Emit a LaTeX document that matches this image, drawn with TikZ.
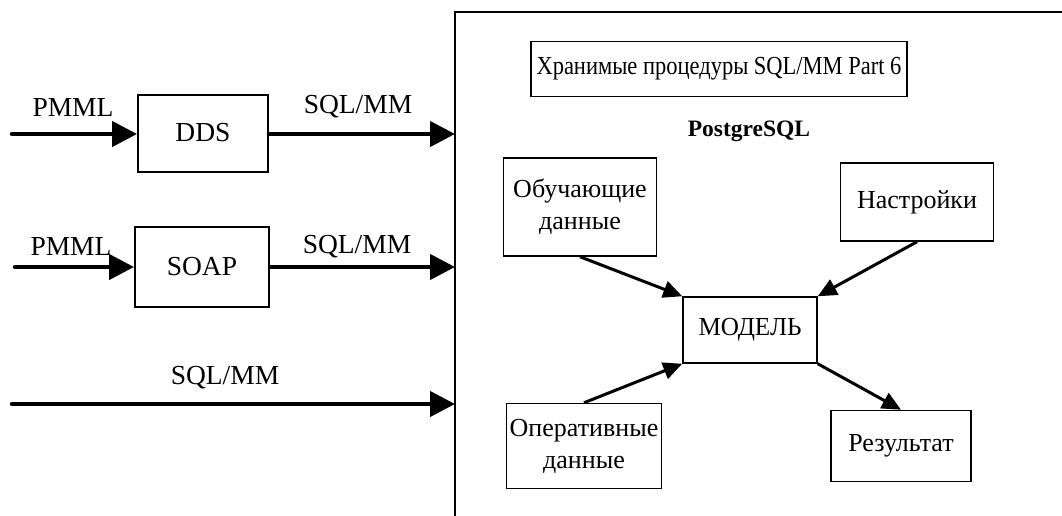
\documentclass[tikz,border=0pt]{standalone}
\usepackage{fontspec}
\usepackage{graphicx}
\setmainfont{Liberation Serif}
\usetikzlibrary{arrows.meta}
\begin{document}
\begin{tikzpicture}[x=1pt,y=-1pt,
  txt/.style={font=\fontsize{26}{32}\selectfont, inner sep=0pt},
  lat/.style={font=\fontsize{27.5}{32}\selectfont, inner sep=0pt},
  box/.style={draw, line width=1.5pt, align=center, inner sep=0pt},
  bigarrow/.style={line width=4.5pt, line cap=round, -{Triangle[length=25pt,width=25pt]}},
  diagarrow/.style={line width=3pt, -{Triangle[length=19pt,width=17pt]}}]
\useasboundingbox (0,0) rectangle (1062,515);
% big PostgreSQL box (extends beyond the picture)
\draw[line width=2.5pt] (455,520) -- (455,12) -- (1070,12);
\node[box, txt, minimum width=376pt, minimum height=55pt] (proc) at (719,69) {\resizebox{365pt}{\height}{Хранимые процедуры SQL/MM Part 6}};
\node[inner sep=0pt, font=\fontsize{23.5}{28}\selectfont\bfseries] (pg) at (749,131) {PostgreSQL};
% left side
\node[box, lat, line width=2pt, minimum width=130pt, minimum height=77pt] (dds) at (203,133) {DDS};
\node[box, lat, line width=2pt, minimum width=134pt, minimum height=80pt] (soap) at (202,267) {SOAP};
\coordinate (in1) at (12,134);
\coordinate (out1) at (455,134);
\coordinate (in2) at (15,267);
\coordinate (out2) at (455,267);
\coordinate (in3) at (12,404);
\coordinate (out3) at (455,404);
\draw[bigarrow] (in1) -- (dds.west |- in1);
\draw[bigarrow] (dds.east |- out1) -- (out1);
\draw[bigarrow] (in2) -- (soap.west |- in2);
\draw[bigarrow] (soap.east |- out2) -- (out2);
\draw[bigarrow] (in3) -- (out3);
\node[lat] (l1) at (73,107) {PMML};
\node[lat] (l2) at (358,107) {SQL/MM};
\node[lat] (l3) at (71,246) {PMML};
\node[lat] (l4) at (357,247) {SQL/MM};
\node[lat] (l5) at (225,378) {SQL/MM};
% inner boxes
\node[box, txt, minimum width=153pt, minimum height=98pt] (obuch) at (580,207) {Обучающие\\данные};
\node[box, txt, minimum width=153pt, minimum height=78pt] (nastr) at (917,202) {Настройки};
\node[box, txt, minimum width=134pt, minimum height=66pt] (model) at (750,330) {\resizebox{103pt}{\height}{МОДЕЛЬ}};
\node[box, txt, minimum width=155pt, minimum height=85pt] (oper) at (584,446) {Оперативные\\данные};
\node[box, txt, minimum width=140pt, minimum height=71pt] (rez) at (901,446) {Результат};
\draw[diagarrow] (obuch.south) -- (model.north west);
\draw[diagarrow] (nastr.south) -- (model.north east);
\draw[diagarrow] (oper.north) -- (model.south west);
\draw[diagarrow] (model.south east) -- (rez.north);
\end{tikzpicture}
\end{document}
